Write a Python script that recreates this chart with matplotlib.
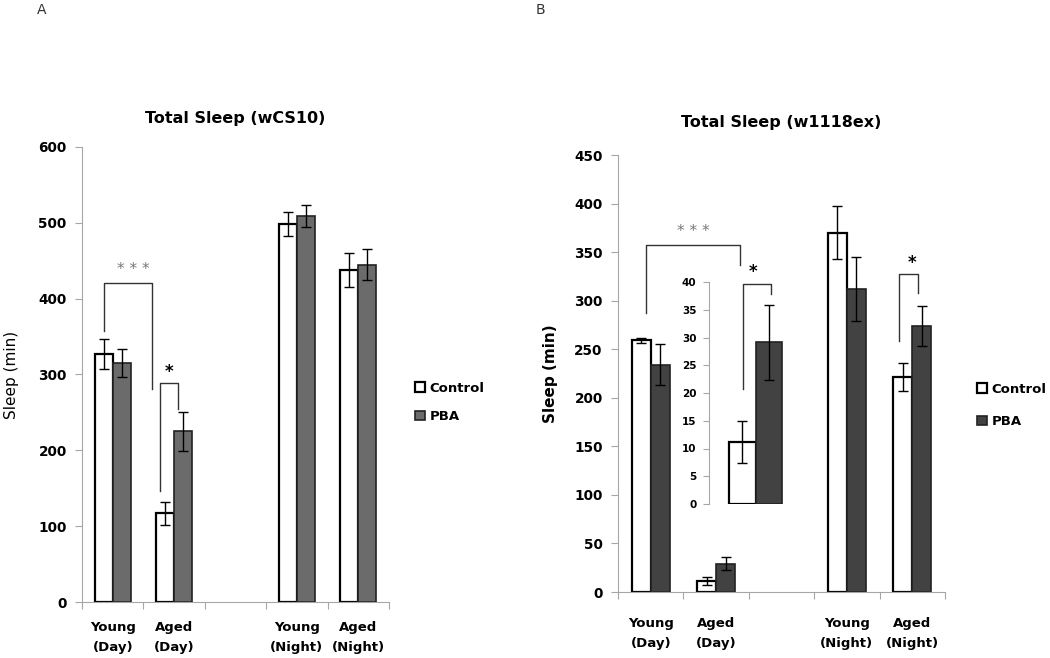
import numpy as np
import matplotlib
matplotlib.use('Agg')
import matplotlib.pyplot as plt

plt.rcParams['font.family'] = ['DejaVu Sans']

groups = ['Young\n(Day)', 'Aged\n(Day)', '', 'Young\n(Night)', 'Aged\n(Night)']

# panel A (wCS10)
a_ctrl = [327, 117, np.nan, 498, 438]
a_ctrl_err = [20, 15, 0, 16, 22]
a_pba = [315, 225, np.nan, 509, 445]
a_pba_err = [18, 26, 0, 14, 21]

# panel B (w1118ex)
b_ctrl = [259, 11.2, np.nan, 370, 221]
b_ctrl_err = [3, 3.8, 0, 27, 14.5]
b_pba = [234, 29.1, np.nan, 312, 274]
b_pba_err = [21, 6.8, 0, 33, 21]

# inset (aged day, zoomed)
ins_ctrl, ins_ctrl_err = 11.2, 3.8
ins_pba, ins_pba_err = 29.1, 6.8

W, H = 1050, 658
fig = plt.figure(figsize=(10.5, 6.58), dpi=100)
spine_c = '#a6a6a6'
bw = 0.29


def px(x0, y0, x1, y1):
    return [x0 / W, 1 - y1 / H, (x1 - x0) / W, (y1 - y0) / H]


def panel(rect, ctrl, cerr, pba, perr, pcol, ymax, step, title, tpad, xpad):
    ax = fig.add_axes(rect)
    x = np.arange(len(groups))
    ax.bar(x - bw / 2, ctrl, bw, color='white', edgecolor='black', linewidth=1.6,
           yerr=cerr, error_kw=dict(ecolor='black', elinewidth=1, capsize=3.5, capthick=1),
           label='Control', zorder=2)
    ax.bar(x + bw / 2, pba, bw, color=pcol, edgecolor='#222222', linewidth=1.2,
           yerr=perr, error_kw=dict(ecolor='black', elinewidth=1, capsize=3.5, capthick=1),
           label='PBA', zorder=2)
    ax.set_xlim(-0.5, len(groups) - 0.5)
    ax.set_ylim(0, ymax)
    ax.set_yticks(np.arange(0, ymax + 1, step))
    ax.set_xticks(np.arange(-0.5, len(groups), 1.0))
    ax.set_xticklabels([])
    ax.set_xticks(x, minor=True)
    ax.set_xticklabels(groups, minor=True, fontweight='bold', fontsize=9.5, linespacing=1.65)
    ax.tick_params(axis='x', which='minor', length=0, pad=xpad)
    ax.tick_params(axis='x', which='major', length=5, color=spine_c, direction='out')
    ax.tick_params(axis='y', length=5, color=spine_c, labelsize=9.8, pad=6)
    for t in ax.get_yticklabels():
        t.set_fontweight('bold')
    for s in ['top', 'right']:
        ax.spines[s].set_visible(False)
    for s in ['left', 'bottom']:
        ax.spines[s].set_color(spine_c)
    ax.set_title(title, fontweight='bold', fontsize=11.5, pad=tpad)
    return ax


def bracket(ax, x0, y0, x1, y1, ytop, text, tx, ty, color, **kw):
    ax.plot([x0, x0, x1, x1], [y0, ytop, ytop, y1], color='#333333', lw=1,
            clip_on=False, zorder=3)
    ax.text(tx, ty, text, ha='center', va='center', color=color, clip_on=False, **kw)


def legend(ax, x, y, spacing):
    ax.legend(loc='upper left', bbox_to_anchor=(x / W, 1 - y / H), bbox_transform=fig.transFigure,
              frameon=False, handlelength=0.75, handleheight=0.75, handletextpad=0.35,
              labelspacing=spacing, prop=dict(weight='bold', size=9.5))


axA = panel(px(82, 147, 389, 602), a_ctrl, a_ctrl_err, a_pba, a_pba_err,
            '#6b6b6b', 600, 100, 'Total Sleep (wCS10)', 17, 14)
axA.set_ylabel('Sleep (min)', fontsize=11, labelpad=14)
bracket(axA, -0.14, 357, 0.64, 281, 421, '* * *', 0.33, 438, '#777777', fontsize=11)
bracket(axA, 0.77, 146, 1.06, 255, 289, '*', 0.92, 303, 'black', fontsize=12, fontweight='bold')
legend(axA, 403, 370, 1.15)

axB = panel(px(618, 155, 945, 592), b_ctrl, b_ctrl_err, b_pba, b_pba_err,
            '#424242', 450, 50, 'Total Sleep (w1118ex)', 20, 18)
axB.set_ylabel('Sleep (min)', fontsize=11, fontweight='bold', labelpad=12)
bracket(axB, -0.07, 287, 1.37, 337, 357, '* * *', 0.65, 371, '#777777', fontsize=11)
bracket(axB, 3.80, 258, 4.09, 308, 327, '*', 3.99, 339, 'black', fontsize=12, fontweight='bold')
legend(axB, 965, 371, 1.45)

# inset
axI = fig.add_axes(px(709, 282, 790, 504))
axI.bar([0], [ins_ctrl], 1.0, color='white', edgecolor='black', linewidth=1.6,
        yerr=[ins_ctrl_err], error_kw=dict(ecolor='black', elinewidth=1, capsize=3.5, capthick=1))
axI.bar([1], [ins_pba], 1.0, color='#424242', edgecolor='#222222', linewidth=1.2,
        yerr=[ins_pba_err], error_kw=dict(ecolor='black', elinewidth=1, capsize=3.5, capthick=1))
axI.set_xlim(-1.28, 1.82)
axI.set_ylim(0, 40)
axI.set_yticks(np.arange(0, 41, 5))
axI.set_xticks([])
axI.tick_params(axis='y', length=4, color=spine_c, labelsize=7.5, pad=5)
for t in axI.get_yticklabels():
    t.set_fontweight('bold')
for s in ['top', 'right', 'bottom']:
    axI.spines[s].set_visible(False)
axI.spines['left'].set_color(spine_c)
axI.patch.set_alpha(0)
bracket(axI, 0.02, 20.7, 1.11, 37.9, 39.7, '*', 0.39, 41.8, 'black', fontsize=12, fontweight='bold')

fig.text(42 / W, 1 - 10 / H, 'A', fontsize=10, va='center', ha='center', color='#333333')
fig.text(540 / W, 1 - 10 / H, 'B', fontsize=10, va='center', ha='center', color='#333333')

fig.savefig('out.png', dpi=100)
